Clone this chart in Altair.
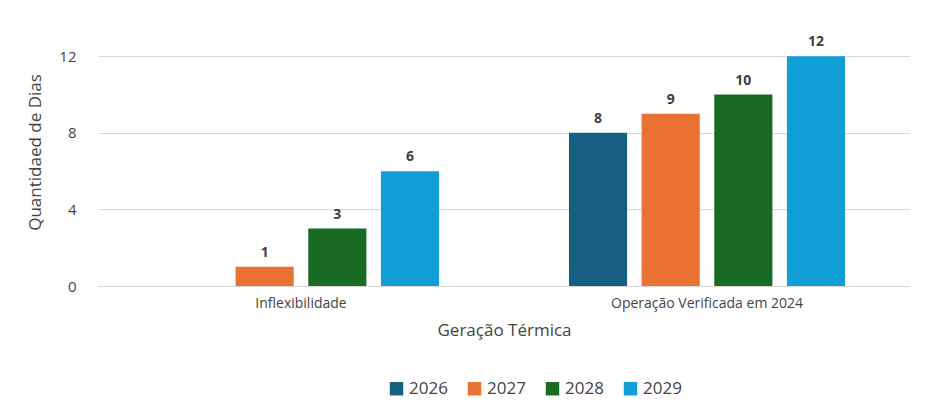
import pandas as pd
import altair as alt

categories = ["Inflexibilidade", "Operação Verificada em 2024"]
years = ["2026", "2027", "2028", "2029"]
values = {
    "Inflexibilidade": [0, 1, 3, 6],
    "Operação Verificada em 2024": [8, 9, 10, 12],
}
colors = ["#156082", "#E97132", "#196B24", "#0F9ED5"]

rows = []
for c in categories:
    for y, v in zip(years, values[c]):
        rows.append({"cat": c, "ano": y, "dias": v})
df = pd.DataFrame(rows)

FONT = "Open Sans"

base = alt.Chart(df).encode(
    x=alt.X("cat:N", sort=categories, title="Geração Térmica",
            scale=alt.Scale(paddingInner=0.32, paddingOuter=0.16),
            axis=alt.Axis(labelAngle=0, labelFontSize=14, titleFontSize=17, labelColor="#444",
                          titleColor="#444", ticks=False, domainColor="#d9d9d9", labelLimit=0,
                          labelPadding=10, titlePadding=12, titleFontWeight="normal")),
    xOffset=alt.XOffset("ano:N", scale=alt.Scale(paddingInner=0.2)),
)

bars = base.mark_bar().encode(
    y=alt.Y("dias:Q", title="Quantidaed de Dias",
            scale=alt.Scale(domain=[0, 14], nice=False),
            axis=alt.Axis(values=list(range(0, 15, 2)), labelFontSize=15, titleFontSize=17,
                          labelColor="#444", titleColor="#444", domain=False, ticks=False,
                          labelOverlap=False, labelBound=False,
                          gridColor="#d9d9d9", labelPadding=22, titlePadding=14,
                          titleFontWeight="normal")),
    color=alt.Color("ano:N", scale=alt.Scale(domain=years, range=colors),
                    legend=alt.Legend(title=None, orient="none", direction="horizontal",
                                      legendX=290, legendY=362,
                                      symbolType="square", symbolSize=180, labelFontSize=17,
                                      labelColor="#444", columnPadding=18)),
)

labels = base.mark_text(dy=-14, fontSize=14, fontWeight="bold", color="#404040",
                        font=FONT).encode(
    y="dias:Q", text="dias:Q"
).transform_filter(alt.datum.dias > 0)

chart = (bars + labels).properties(
    width=812, height=268, padding={"top": 10, "left": 18, "right": 5, "bottom": 5}
).configure(font=FONT).configure_view(stroke=None)

chart.save("out.html", embed_options={"renderer": "svg", "actions": False})
